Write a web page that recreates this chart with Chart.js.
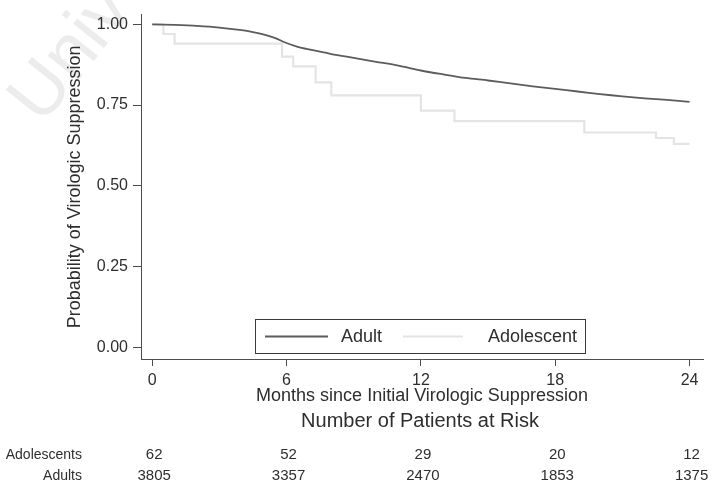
<!DOCTYPE html>
<html>
<head>
<meta charset="utf-8">
<script src="https://cdn.jsdelivr.net/npm/chart.js@4.4.1/dist/chart.umd.min.js"></script>
<style>
  html, body { margin: 0; padding: 0; background: #ffffff; }
  #wrap { width: 713px; height: 487px; position: relative; }
</style>
</head>
<body>
<div id="wrap"><canvas id="km"></canvas></div>
<script>
// Kaplan-Meier estimates of remaining virologically suppressed
const seriesNames = ['Adult', 'Adolescent'];

// Adults (large cohort, curve looks smooth)
const adultMonths = [0, 1, 2, 3, 4, 4.5, 5, 5.5, 6, 6.5, 7, 8, 9, 10, 11, 12,
                     13, 14, 15, 16, 17, 18, 19, 20, 21, 22, 23, 24];
const adultSurv   = [1.000, 0.998, 0.995, 0.990, 0.982, 0.976, 0.968, 0.957, 0.942, 0.930,
                     0.922, 0.908, 0.896, 0.884, 0.872, 0.857, 0.845, 0.834, 0.826, 0.817,
                     0.808, 0.800, 0.792, 0.784, 0.777, 0.771, 0.766, 0.760];

// Adolescents (small cohort, visible steps)
const adolMonths = [0, 0.5, 1.0, 5.8, 6.3, 7.3, 8.0, 12.0, 13.5, 19.3, 22.5, 23.3, 24];
const adolSurv   = [1.000, 0.970, 0.940, 0.900, 0.870, 0.820, 0.780, 0.733, 0.700, 0.665,
                    0.648, 0.630, 0.630];

// Axis ticks
const xTickValues = [0, 6, 12, 18, 24];
const yTickValues = [0, 0.25, 0.5, 0.75, 1.0];

// Number at risk table
const riskGroups = ['Adolescents', 'Adults'];
const riskAdolescents = [62, 52, 29, 20, 12];
const riskAdults = [3805, 3357, 2470, 1853, 1375];

const xTitle = 'Months since Initial Virologic Suppression';
const yTitle = 'Probability of Virologic Suppression';
const riskTitle = 'Number of Patients at Risk';
const watermark = 'Univ';

const FONT = '"Liberation Sans", Arial, Helvetica, sans-serif';
const INK = '#2e2e2e';
const AXIS = '#4d4d4d';
const ADULT_COLOR = '#5c5c5c';
const ADOL_COLOR = '#e4e4e4';

const toPoints = (xs, ys) => xs.map((x, i) => ({ x: x, y: ys[i] }));

const decorations = {
  id: 'decorations',
  beforeDraw(chart) {
    const ctx = chart.ctx;
    ctx.save();
    ctx.fillStyle = '#ffffff';
    ctx.fillRect(0, 0, chart.width, chart.height);
    // faint diagonal watermark
    ctx.translate(42, 126);
    ctx.rotate(-0.9);
    ctx.fillStyle = '#ececec';
    ctx.font = '74px ' + FONT;
    ctx.textAlign = 'left';
    ctx.textBaseline = 'alphabetic';
    ctx.fillText(watermark, 0, 0);
    ctx.restore();
  },
  afterDraw(chart) {
    const ctx = chart.ctx;
    const a = chart.chartArea;
    const xs = chart.scales.x;
    ctx.save();
    ctx.fillStyle = INK;
    ctx.textBaseline = 'middle';

    // axis titles
    ctx.font = '18px ' + FONT;
    ctx.textAlign = 'center';
    ctx.fillText(xTitle, (a.left + a.right) / 2, 396);
    ctx.save();
    ctx.translate(75, (a.top + a.bottom) / 2);
    ctx.rotate(-Math.PI / 2);
    ctx.fillText(yTitle, 0, 0);
    ctx.restore();

    // risk table
    ctx.font = '20px ' + FONT;
    ctx.fillText(riskTitle, 420, 421);
    const rows = [riskAdolescents, riskAdults];
    const rowY = [455, 476];
    rows.forEach((vals, r) => {
      ctx.font = '14px ' + FONT;
      ctx.textAlign = 'right';
      ctx.fillText(riskGroups[r], 82, rowY[r]);
      ctx.font = '15px ' + FONT;
      ctx.textAlign = 'center';
      vals.forEach((v, i) => {
        ctx.fillText(String(v), xs.getPixelForValue(xTickValues[i]) + 2, rowY[r]);
      });
    });

    // legend box inside the plot
    const box = { l: 255, t: 319, r: 585, b: 353 };
    ctx.strokeStyle = '#3a3a3a';
    ctx.lineWidth = 1;
    ctx.strokeRect(box.l + 0.5, box.t + 0.5, box.r - box.l, box.b - box.t);
    const entries = [
      { x0: 265, x1: 328, tx: 341 },
      { x0: 403, x1: 463, tx: 488 }
    ];
    ctx.font = '18px ' + FONT;
    ctx.textAlign = 'left';
    chart.data.datasets.forEach((ds, i) => {
      const e = entries[i];
      ctx.strokeStyle = ds.borderColor;
      ctx.lineWidth = ds.borderWidth;
      ctx.beginPath();
      ctx.moveTo(e.x0, 336.5);
      ctx.lineTo(e.x1, 336.5);
      ctx.stroke();
      ctx.fillStyle = INK;
      ctx.fillText(ds.label, e.tx, 337);
    });
    ctx.restore();
  }
};

new Chart(document.getElementById('km'), {
  type: 'line',
  data: {
    datasets: [
      {
        label: seriesNames[0],
        data: toPoints(adultMonths, adultSurv),
        borderColor: ADULT_COLOR,
        borderWidth: 1.8,
        pointRadius: 0,
        tension: 0.3,
        fill: false
      },
      {
        label: seriesNames[1],
        data: toPoints(adolMonths, adolSurv),
        borderColor: ADOL_COLOR,
        borderWidth: 2.2,
        pointRadius: 0,
        stepped: 'before',
        fill: false
      }
    ]
  },
  options: {
    responsive: true,
    maintainAspectRatio: false,
    animation: false,
    layout: { padding: { top: 12, right: 10, left: 0, bottom: 0 } },
    plugins: {
      legend: { display: false },
      tooltip: { enabled: false }
    },
    scales: {
      x: {
        type: 'linear',
        min: -0.5,
        max: 24.6,
        afterBuildTicks: s => { s.ticks = xTickValues.map(v => ({ value: v })); },
        afterFit: s => { s.height = 128; },
        grid: { drawOnChartArea: false, drawTicks: true, tickLength: 7, color: AXIS, lineWidth: 1 },
        border: { display: true, color: AXIS, width: 1 },
        ticks: {
          color: INK,
          font: { family: FONT, size: 16 },
          padding: 5,
          maxRotation: 0,
          callback: v => String(v)
        }
      },
      y: {
        type: 'linear',
        min: -0.036,
        max: 1.03,
        afterBuildTicks: s => { s.ticks = yTickValues.map(v => ({ value: v })); },
        afterFit: s => { s.width = 141; },
        grid: { drawOnChartArea: false, drawTicks: true, tickLength: 8, color: AXIS, lineWidth: 1 },
        border: { display: true, color: AXIS, width: 1 },
        ticks: {
          color: INK,
          font: { family: FONT, size: 16 },
          padding: 5,
          callback: v => Number(v).toFixed(2)
        }
      }
    }
  },
  plugins: [decorations]
});
</script>
</body>
</html>
